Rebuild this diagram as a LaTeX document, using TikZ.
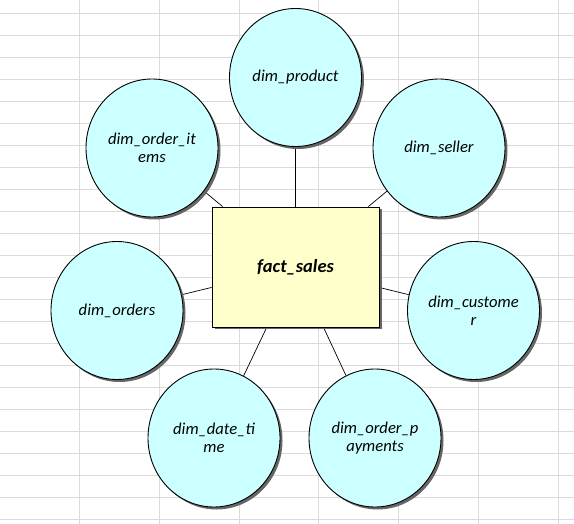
\documentclass[tikz,border=0pt]{standalone}
\usepackage{fontspec}
\setmainfont{Carlito}
\usetikzlibrary{shapes.geometric,shadows,backgrounds}

\definecolor{dimfill}{HTML}{CCFFFF}
\definecolor{factfill}{HTML}{FFFFCC}
\definecolor{gridgray}{HTML}{DADADA}

\begin{document}
\begin{tikzpicture}[x=1pt, y=-1pt,
  gridline/.style={gridgray, line width=0.8pt},
  dimnode/.style={ellipse, draw=black, line width=0.9pt, fill=dimfill,
    minimum width=132pt, minimum height=138pt, inner sep=0pt, align=center,
    font=\fontsize{16.6}{18.5}\selectfont\itshape,
    drop shadow={shadow xshift=2.5pt, shadow yshift=-2.5pt, fill=black!60, opacity=1}},
  factnode/.style={rectangle, draw=black, line width=0.9pt, fill=factfill,
    minimum width=167pt, minimum height=120pt, inner sep=0pt,
    font=\fontsize{18.5}{20}\selectfont\bfseries\itshape,
    drop shadow={shadow xshift=2.5pt, shadow yshift=-2.5pt, fill=black!60, opacity=1}},
  link/.style={black, line width=0.7pt}]

\useasboundingbox (0,0) rectangle (574,524);

\node[factnode] (fact) at (295.5,267) {fact\_sales};

\node[dimnode] (product) at (295.5,77.5) {dim\_product};
\node[dimnode] (items) at (152,148) {dim\_order\_it\\ems};
\node[dimnode] (seller) at (439,148) {dim\_seller};
\node[dimnode] (orders) at (117,310.5) {dim\_orders};
\node[dimnode] (customer) at (473.5,310.5) {dim\_custome\\r};
\node[dimnode] (datetime) at (214,438) {dim\_date\_ti\\me};
\node[dimnode] (payments) at (375,438) {dim\_order\_p\\ayments};

\begin{scope}[on background layer]
% sheet grid
\foreach \gx in {79,159,239,318,398,478,558}
  \draw[gridline] (\gx,0) -- (\gx,524);
\foreach \k in {0,...,23}
  \draw[gridline] (0,{13+22*\k}) -- (574,{13+22*\k});

\foreach \d in {product,items,seller,orders,customer,datetime,payments}
  \draw[link] (fact) -- (\d);
\end{scope}

\end{tikzpicture}
\end{document}
